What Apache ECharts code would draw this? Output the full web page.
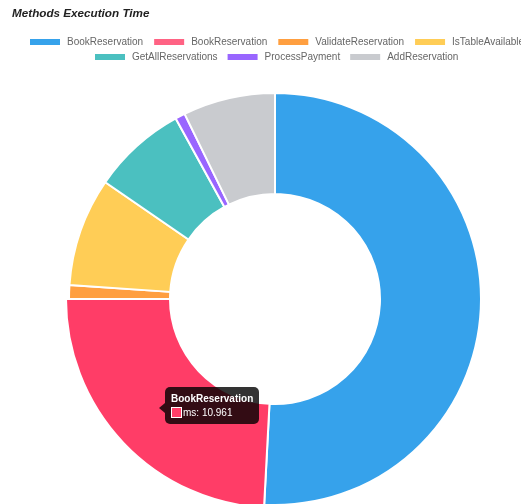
<!DOCTYPE html>
<html>
<head>
<meta charset="utf-8">
<script src="https://cdn.jsdelivr.net/npm/echarts@6/dist/echarts.min.js"></script>
<style>
html,body{margin:0;padding:0;background:#fff;}
#chart{width:521px;height:504px;}
</style>
</head>
<body>
<div id="chart"></div>
<script>
const title = 'Methods Execution Time';
const categories = ['BookReservation','BookReservation','ValidateReservation','IsTableAvailable','GetAllReservations','ProcessPayment','AddReservation'];
const values = [23.06, 10.961, 0.49, 3.86, 3.36, 0.35, 3.28];
const colors = ['#36a2eb','#ff6384','#ff9f40','#ffcd56','#4bc0c0','#9966ff','#c9cbcf'];
const valueLabel = 'ms';
const hoveredIndex = 1;
const hoverColor = '#ff3d67';

const chart = echarts.init(document.getElementById('chart'), null, {renderer:'canvas'});
const font = '"Liberation Sans", Arial, Helvetica, sans-serif';

const data = values.map((v,i)=>{
  const d = {name: String(i), value: v, itemStyle:{color: colors[i]}};
  if(i===hoveredIndex){ d.emphasis = {itemStyle:{color: hoverColor}}; }
  return d;
});

const legendCommon = {
  orient:'horizontal',
  icon:'rect',
  itemWidth:32,
  itemHeight:8,
  itemGap:9,
  padding:0,
  width:600,
  selectedMode:false,
  formatter: n => categories[+n],
  textStyle:{fontFamily:font,fontSize:10,color:'#666',padding:[0,0,0,1]}
};

chart.setOption({
  animation:false,
  title:{text:title,left:12,top:8,padding:0,textStyle:{fontFamily:font,fontSize:11.7,fontWeight:'bold',fontStyle:'italic',color:'#222'}},
  legend:[
    Object.assign({}, legendCommon, {left:28, top:37, data:['0','1','2','3']}),
    Object.assign({}, legendCommon, {left:93, top:52, itemGap:8, data:['4','5','6']})
  ],
  tooltip:{
    trigger:'item',
    triggerOn:'none',
    alwaysShowContent:true,
    transitionDuration:0,
    position:[165,387],
    backgroundColor:'rgba(0,0,0,0.8)',
    borderWidth:0,
    padding:[5,6,5,6],
    extraCssText:'border-radius:5px;box-shadow:none;overflow:visible;',
    formatter: p => {
      const i = p.dataIndex;
      return '<div style="position:relative;font-family:'+font.replace(/"/g,"'")+';color:#fff;font-size:10px;line-height:13px;">'
        + '<div style="position:absolute;left:-12px;top:11px;width:0;height:0;border-top:5px solid transparent;border-bottom:5px solid transparent;border-right:6px solid rgba(0,0,0,0.8);"></div>'
        + '<div style="font-weight:bold;margin-bottom:1px;">'+categories[i]+'</div>'
        + '<div><span style="display:inline-block;width:9px;height:9px;background:'+hoverColor+';border:1px solid #fff;vertical-align:-2px;margin-right:1px;"></span>'+valueLabel+': '+values[i]+'</div>'
        + '</div>';
    }
  },
  series:[{
    type:'pie',
    center:[275,299],
    radius:[105,206],
    startAngle:90,
    clockwise:true,
    avoidLabelOverlap:false,
    label:{show:false},
    labelLine:{show:false},
    itemStyle:{borderColor:'#fff',borderWidth:2},
    emphasis:{scale:true,scaleSize:3,focus:'none',label:{show:false}},
    data:data
  }]
});

chart.dispatchAction({type:'highlight',seriesIndex:0,dataIndex:hoveredIndex});
chart.dispatchAction({type:'showTip',seriesIndex:0,dataIndex:hoveredIndex});
</script>
</body>
</html>
